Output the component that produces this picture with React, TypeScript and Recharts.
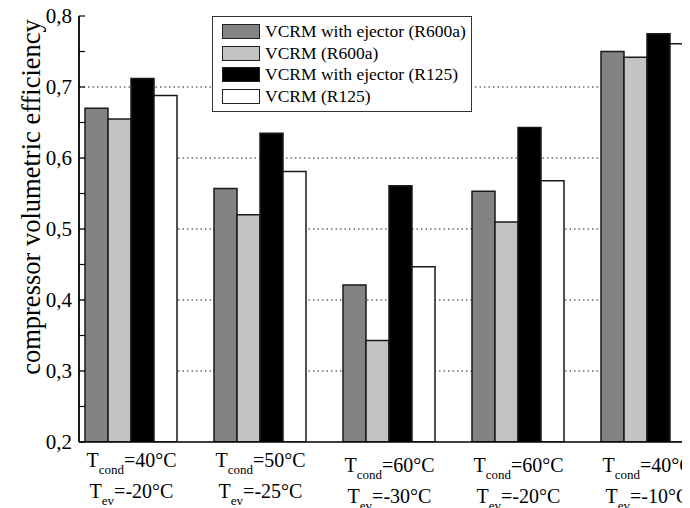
import React from 'react';
import { BarChart, Bar, XAxis, YAxis, CartesianGrid, Legend } from 'recharts';

// ---- data ----
const groupPositions = [1, 2, 3, 4, 5];
const condLabels = ['=40°C', '=50°C', '=60°C', '=60°C', '=40°C'];
const evLabels = ['=-20°C', '=-25°C', '=-30°C', '=-20°C', '=-10°C'];

const ejectorR600a = [0.670, 0.557, 0.421, 0.553, 0.750];
const vcrmR600a = [0.655, 0.520, 0.343, 0.510, 0.742];
const ejectorR125 = [0.712, 0.635, 0.561, 0.643, 0.775];
const vcrmR125 = [0.688, 0.581, 0.447, 0.568, 0.761];

const seriesNames = [
  'VCRM with ejector (R600a)',
  'VCRM (R600a)',
  'VCRM with ejector (R125)',
  'VCRM (R125)',
];
const seriesColors = ['#838383', '#c2c4c2', '#000000', '#ffffff'];

const yTicks = [0.2, 0.25, 0.3, 0.35, 0.4, 0.45, 0.5, 0.55, 0.6, 0.65, 0.7, 0.75, 0.8];
const yMajor = [0.2, 0.3, 0.4, 0.5, 0.6, 0.7, 0.8];
const gridValues = [0.3, 0.4, 0.5, 0.6, 0.7];
const topTicks = [1, 1.5, 2, 2.5, 3, 3.5, 4, 4.5, 5];
const xDomain = [0.593, 5.407];
const yDomain = [0.2, 0.8];
const yTitle = 'compressor volumetric efficiency';

const data = groupPositions.map((x, i) => ({
  x,
  s0: ejectorR600a[i],
  s1: vcrmR600a[i],
  s2: ejectorR125[i],
  s3: vcrmR125[i],
}));

const FONT = 'Liberation Serif';

const YTick = (props: any) => {
  const { x, y, payload } = props;
  const v = payload.value;
  const isMajor = yMajor.some((m) => Math.abs(m - v) < 1e-6);
  return (
    <g>
      <line x1={x} x2={x + 6} y1={y} y2={y} stroke="#000" strokeWidth={1.2} />
      {isMajor && (
        <text x={x - 7} y={y} dy="0.35em" textAnchor="end" fontFamily={FONT} fontSize={21} fill="#000">
          {v.toFixed(1).replace('.', ',')}
        </text>
      )}
    </g>
  );
};

const TopTick = (props: any) => {
  const { x, y } = props;
  return <line x1={x} x2={x} y1={y} y2={y + 5} stroke="#000" strokeWidth={1} />;
};

const XTick = (props: any) => {
  const { x, y, payload } = props;
  const i = groupPositions.indexOf(payload.value);
  if (i < 0) return null;
  const shift = i >= 2 ? 5 : 0;
  return (
    <g fill="#000">
      <text x={x} y={y + 25 + shift} textAnchor="middle" fontSize={20} fontFamily={FONT}>
        <tspan>T</tspan>
        <tspan fontSize={13} dy={7}>cond</tspan>
        <tspan dy={-7}>{condLabels[i]}</tspan>
      </text>
      <text x={x} y={y + 56 + shift} textAnchor="middle" fontSize={20} fontFamily={FONT}>
        <tspan>T</tspan>
        <tspan fontSize={13} dy={7}>ev</tspan>
        <tspan dy={-7}>{evLabels[i]}</tspan>
      </text>
    </g>
  );
};

const YLabel = () => {
  const cx = 23;
  const cy = 189;
  return (
    <text
      x={cx}
      y={cy}
      transform={`rotate(-90, ${cx}, ${cy})`}
      textAnchor="middle"
      dominantBaseline="central"
      fontFamily={FONT}
      fontSize={26.5}
      fill="#000"
    >
      {yTitle}
    </text>
  );
};

const LegendBox = (props: any) => {
  const payload = [...(props.payload || [])].sort(
    (a: any, b: any) => seriesNames.indexOf(a.value) - seriesNames.indexOf(b.value)
  );
  return (
    <div
      style={{
        boxSizing: 'border-box',
        width: 260,
        height: 96,
        border: '1px solid #333',
        background: '#fff',
        padding: '4px 0 0 9px',
        fontFamily: FONT,
        fontSize: 17.5,
        color: '#000',
      }}
    >
      {payload.map((p: any) => (
        <div key={p.value} style={{ display: 'flex', alignItems: 'center', height: 21.5 }}>
          <span
            style={{
              display: 'inline-block',
              width: 38,
              height: 15,
              background: p.color,
              border: '1.5px solid #222',
              boxSizing: 'border-box',
              marginRight: 5,
              flex: 'none',
            }}
          />
          <span style={{ lineHeight: '21.5px', whiteSpace: 'nowrap' }}>{p.value}</span>
        </div>
      ))}
    </div>
  );
};

export default function App() {
  return (
    <div style={{ width: 682, height: 500, overflow: 'hidden', position: 'relative', fontFamily: FONT }}>
      <BarChart
        width={720}
        height={500}
        data={data}
        margin={{ top: 8, right: 28, bottom: 0, left: 0 }}
        barGap={0}
        barCategoryGap={0}
      >
        <CartesianGrid
          horizontal={true}
          vertical={false}
          horizontalValues={gridValues}
          stroke="#222"
          strokeDasharray="1.5 3"
          strokeWidth={1.2}
        />
        <XAxis
          dataKey="x"
          type="number"
          domain={xDomain}
          ticks={groupPositions}
          interval={0}
          allowDataOverflow
          height={66}
          tickSize={0}
          tickMargin={0}
          tickLine={false}
          tick={<XTick />}
          axisLine={{ stroke: '#000', strokeWidth: 1.6 }}
        />
        <XAxis
          xAxisId="top"
          orientation="top"
          dataKey="x"
          type="number"
          domain={xDomain}
          ticks={topTicks}
          interval={0}
          allowDataOverflow
          height={0}
          tickSize={0}
          tickMargin={0}
          tickLine={false}
          tick={<TopTick />}
          axisLine={{ stroke: '#000', strokeWidth: 1.4 }}
        />
        <YAxis
          type="number"
          domain={yDomain}
          ticks={yTicks}
          interval={0}
          allowDataOverflow
          width={71}
          tickSize={0}
          tickMargin={0}
          tickLine={false}
          tick={<YTick />}
          axisLine={{ stroke: '#000', strokeWidth: 1.8 }}
          label={<YLabel />}
        />
        <Legend
          layout="vertical"
          align="center"
          verticalAlign="middle"
          wrapperStyle={{ left: 204, top: 8, width: 260, height: 96 }}
          content={<LegendBox />}
        />
        <Bar dataKey="s0" name={seriesNames[0]} fill={seriesColors[0]} stroke="#1a1a1a" strokeWidth={1.5} barSize={23} isAnimationActive={false} />
        <Bar dataKey="s1" name={seriesNames[1]} fill={seriesColors[1]} stroke="#1a1a1a" strokeWidth={1.5} barSize={23} isAnimationActive={false} />
        <Bar dataKey="s2" name={seriesNames[2]} fill={seriesColors[2]} stroke="#1a1a1a" strokeWidth={1.5} barSize={23} isAnimationActive={false} />
        <Bar dataKey="s3" name={seriesNames[3]} fill={seriesColors[3]} stroke="#1a1a1a" strokeWidth={1.5} barSize={23} isAnimationActive={false} />
      </BarChart>
    </div>
  );
}
